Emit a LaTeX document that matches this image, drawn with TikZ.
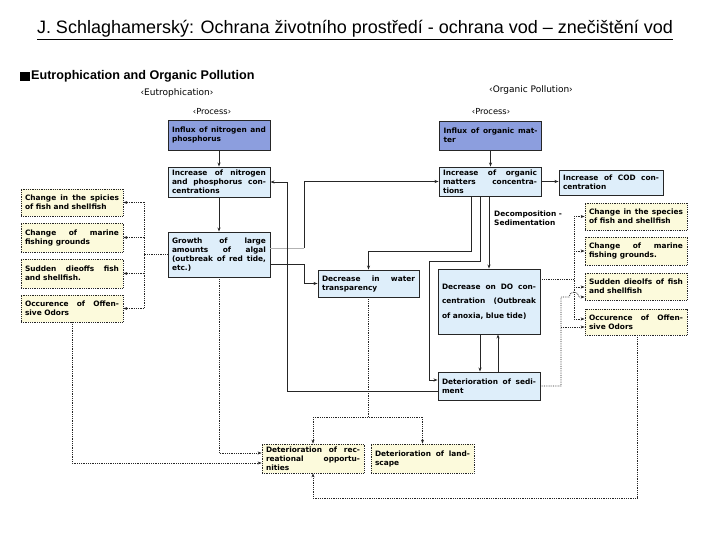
\documentclass[tikz,border=0pt]{standalone}
\usepackage{fontspec}
\setmainfont{Liberation Sans}
\newfontfamily\dvs{DejaVu Sans}
\usetikzlibrary{arrows.meta}
\definecolor{inflc}{RGB}{140,158,222}
\definecolor{procf}{RGB}{222,238,250}
\definecolor{effy}{RGB}{252,250,220}
\tolerance=10000
\hbadness=10000
\hfuzz=5pt
\hyphenpenalty=10000
\begin{document}
\begin{tikzpicture}[x=1pt,y=-1pt,
  boxfont/.style={font=\dvs\bfseries\fontsize{7.4}{9}\selectfont},
  base/.style={boxfont, text width=94pt, minimum width=102pt, inner xsep=4pt, inner ysep=1pt, align=justify},
  proc/.style={base, draw=black!85, line width=0.9pt, fill=procf},
  inflx/.style={proc, fill=inflc},
  eff/.style={base, draw=black!85, densely dotted, line width=0.8pt, fill=effy},
  arr/.style={draw=black!85, line width=0.8pt, -{Stealth[length=4pt,width=3pt]}},
  faint/.style={draw=black!30, line width=0.8pt},
  dl/.style={draw=black!85, densely dotted, line width=0.8pt},
  darr/.style={dl, -{Stealth[length=4pt,width=3pt]}},
  lbl/.style={font=\dvs\fontsize{9}{10}\selectfont},
  plbl/.style={font=\dvs\fontsize{8.3}{10}\selectfont}]
\useasboundingbox (0,0) rectangle (720,540);

% title and headings
\node (title) at (355,30) {\fontsize{18}{21}\selectfont\underline{J. Schlaghamerský: Ochrana životního prostředí - ochrana vod – znečištění vod}};
\node[fill=black, minimum size=9.5pt, inner sep=0pt] (sq) at (25,76.5) {};
\node[anchor=west, inner sep=0pt, font=\bfseries\fontsize{12.6}{14}\selectfont] (head) at (31,76.5) {Eutrophication and Organic Pollution};
\node[lbl] (eut) at (177,93) {‹Eutrophication›};
\node[lbl] (org) at (531,90) {‹Organic Pollution›};
\node[plbl] (pr1) at (212,112) {‹Process›};
\node[plbl] (pr2) at (491,112) {‹Process›};

% eutrophication process
\node[inflx, minimum height=30pt] (n1) at (219,135) {Influx of nitrogen and\linebreak phosphorus};
\node[proc, minimum height=30pt] (n2) at (219,182) {Increase of nitrogen\linebreak and phosphorus con-\linebreak centrations};
\node[proc, minimum height=45pt] (n3) at (219,254.5) {Growth of large\linebreak amounts of algal\linebreak (outbreak of red tide,\linebreak etc.)};

% left effects
\node[eff, minimum height=27pt] (l1) at (72,202.5) {Change in the spicies\linebreak of fish and shellfish};
\node[eff, minimum height=29pt] (l2) at (72,237.5) {Change of marine\linebreak fishing grounds};
\node[eff, minimum height=29pt] (l3) at (72,273.5) {Sudden dieoffs fish\linebreak and shellfish.};
\node[eff, minimum height=27pt] (l4) at (72,308.5) {Occurence of Offen-\linebreak sive Odors};

% middle
\node[proc, text width=93pt, minimum width=101pt, minimum height=27pt] (tr) at (368.5,283.5) {Decrease in water\linebreak transparency};

% organic pollution process
\node[inflx, minimum height=29pt] (n4) at (490.5,135.5) {Influx of organic mat-\linebreak ter};
\node[proc, minimum height=29pt] (n5) at (490,181.5) {Increase of organic\linebreak matters concentra-\linebreak tions};
\node[proc, text width=96pt, minimum width=104pt, minimum height=25pt] (n6) at (611,182.5) {Increase of COD con-\linebreak centration};
\node[proc, minimum height=65pt, font=\dvs\bfseries\fontsize{7.4}{14.5}\selectfont] (do) at (489,301.5) {Decrease on DO con-\linebreak centration (Outbreak\linebreak of anoxia, blue tide)};
\node[proc, minimum height=28pt] (sd) at (489,386) {Deterioration of sedi-\linebreak ment};
\node[boxfont, anchor=north west, align=left, inner sep=0pt] (dec) at (494,211) {Decomposition -\\Sedimentation};

% right effects
\node[eff, minimum height=27pt] (r1) at (636,216.5) {Change in the species\linebreak of fish and shellfish};
\node[eff, minimum height=28pt] (r2) at (636,251) {Change of marine\linebreak fishing grounds.};
\node[eff, minimum height=27pt] (r3) at (636,286.5) {Sudden dieolfs of fish\linebreak and shellfish};
\node[eff, minimum height=26pt] (r4) at (636,322) {Occurence of Offen-\linebreak sive Odors};

% bottom effects
\node[eff, minimum height=29pt] (rec) at (313,458.5) {Deterioration of rec-\linebreak reational opportu-\linebreak nities};
\node[eff, text width=95pt, minimum width=103pt, minimum height=29pt] (land) at (422.5,458.5) {Deterioration of land-\linebreak scape};

% helper coordinates
\coordinate (lx) at (144,0);
\coordinate (rx) at (574,0);
\coordinate (sx) at (561,0);
\coordinate (ty) at (0,417);
\coordinate (by) at (0,498);

% solid connectors
\draw[arr] (n1.south) -- (n2.north);
\draw[arr] (n2.south) -- (n3.north);
\draw[arr] ([yshift=-9.5pt]n3.east) -- (304,264) |- (tr.west);
\draw[faint] ([yshift=6.5pt]n3.east) -- (304,248);
\draw[arr] (304,248) |- (n5.west);
\draw[arr] ([yshift=-5pt]sd.west) -- (287,391) |- (n2.east);
\draw[arr] (n4.south) -- (n4.south |- n5.north);
\draw[arr] (n5.east) -- (n5.east -| n6.west);
\draw[arr] ([xshift=-19pt]n5.south) -- (471,251) -| (tr.north);
\draw[arr] ([xshift=-10pt]n5.south) -- (480,261) -- (429,261) |- ([yshift=6pt]sd.west);
\draw[arr] (n5.south -| do.north) -- (do.north);
\draw[arr] ([xshift=-9pt]do.south) -- ([xshift=-9pt]sd.north);
\draw[arr] ([xshift=9pt]sd.north) -- ([xshift=9pt]do.south);

% dotted connectors, left
\draw[dl] (n3.west) -- (n3.west -| lx);
\draw[dl] (l1.east -| lx) -- (l4.east -| lx);
\draw[darr] (l1.east -| lx) -- (l1.east);
\draw[darr] (l2.east -| lx) -- (l2.east);
\draw[darr] (l3.east -| lx) -- (l3.east);
\draw[darr] (l4.east -| lx) -- (l4.east);
\draw[darr] (n3.south) |- ([yshift=5.5pt]rec.west);
\draw[darr] (l4.south) |- ([yshift=-4.5pt]rec.west);

% dotted connectors, bottom
\draw[dl] (tr.south) -- (tr.south |- ty);
\draw[dl] (rec.north |- ty) -- (land.north |- ty);
\draw[darr] (rec.north |- ty) -- (rec.north);
\draw[darr] (land.north |- ty) -- (land.north);
\draw[darr] ([xshift=1pt]r4.south) -- ([xshift=1pt]r4.south |- by) -| (rec.south);

% dotted connectors, right
\draw[dl] ([yshift=22.5pt]do.east) -- ([yshift=22.5pt]do.east -| rx);
\draw[dl] (r1.west -| rx) -- ([yshift=3pt]r4.west -| rx);
\draw[darr] (r1.west -| rx) -- (r1.west);
\draw[darr] (r2.west -| rx) -- (r2.west);
\draw[darr] ([yshift=-0.5pt]r3.west -| rx) -- ([yshift=-0.5pt]r3.west);
\draw[darr] ([yshift=3pt]r4.west -| rx) -- ([yshift=3pt]r4.west);
\draw[darr] (sd.east) -- (sd.east -| sx) -- (561,297) -- (569,297) arc[start angle=180, end angle=0, radius=5pt] -- ([yshift=-10.5pt]r3.west);
\draw[darr] ([yshift=-5pt]r4.west -| sx) -- ([yshift=-5pt]r4.west);
\end{tikzpicture}
\end{document}
